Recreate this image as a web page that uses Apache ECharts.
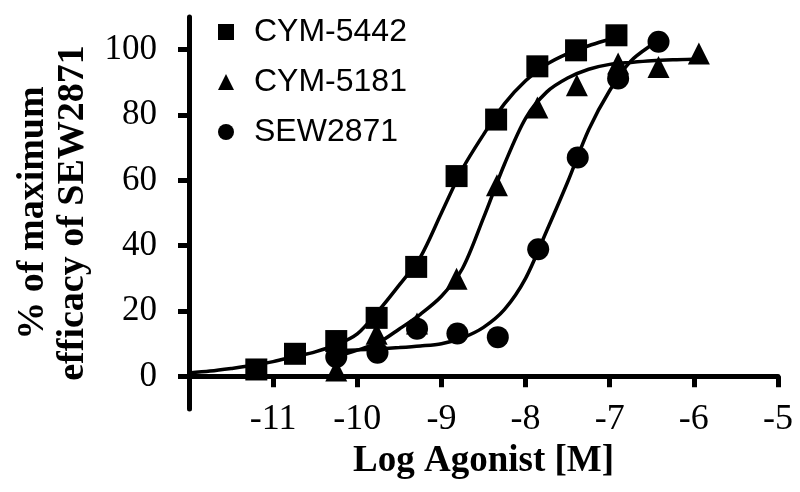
<!DOCTYPE html>
<html><head><meta charset="utf-8">
<script src="https://cdn.jsdelivr.net/npm/echarts@6/dist/echarts.min.js"></script>
<style>html,body{margin:0;padding:0;background:#fff}#c{width:800px;height:492px}</style>
</head><body><div id="c"></div>
<script>
// Tick values
const xTicks = [-11, -10, -9, -8, -7, -6, -5];
const yTicks = [0, 20, 40, 60, 80, 100];
const seriesNames = ['CYM-5442', 'CYM-5181', 'SEW2871'];

// Measured points (Log Agonist [M], % of max efficacy)
const cym5442LogM = [-11.2, -10.74, -10.25, -9.77, -9.3, -8.82, -8.35, -7.86, -7.4, -6.92];
const cym5442Pct  = [2.1, 6.9, 10.8, 17.9, 33.5, 61.3, 78.6, 94.9, 99.8, 104.4];
const cym5181LogM = [-10.25, -9.77, -9.29, -8.82, -8.34, -7.86, -7.39, -6.9, -6.42, -5.94];
const cym5181Pct  = [1.8, 13.0, 16.2, 29.9, 58.5, 82.3, 89.1, 95.8, 94.7, 98.8];
const sewLogM     = [-10.25, -9.76, -9.29, -8.81, -8.33, -7.85, -7.38, -6.9, -6.42];
const sewPct      = [5.9, 7.2, 14.6, 13.1, 12.0, 38.9, 67.0, 91.2, 102.4];

// Fitted curves
const cym5442FitLogM = [-12, -11.75, -11.5, -11.25, -11.0, -10.75, -10.5, -10.25, -10.0, -9.75, -9.5, -9.25, -9.0, -8.75, -8.5, -8.25, -8.0, -7.75, -7.5, -7.25, -7.0, -6.92];
const cym5442FitPct  = [1.0, 1.6, 2.4, 3.3, 4.5, 6.0, 7.5, 9.6, 13.0, 20.0, 28.0, 36.5, 50.0, 63.5, 74.0, 83.5, 90.5, 95.5, 98.8, 101.2, 103.2, 103.8];
const cym5181FitLogM = [-10.25, -10.0, -9.75, -9.5, -9.25, -9.0, -8.75, -8.5, -8.25, -8.0, -7.75, -7.5, -7.25, -7.0, -6.75, -6.5, -6.25, -6.0, -5.94];
const cym5181FitPct  = [6.0, 8.0, 10.3, 14.5, 19.0, 24.5, 33.0, 48.5, 65.0, 79.0, 87.0, 91.3, 94.0, 95.5, 96.1, 96.6, 96.9, 97.1, 97.1];
const sewFitLogM     = [-10.25, -10.0, -9.75, -9.5, -9.25, -9.0, -8.75, -8.5, -8.25, -8.0, -7.75, -7.5, -7.25, -7.0, -6.75, -6.5, -6.42];
const sewFitPct      = [7.8, 8.1, 8.4, 8.8, 9.3, 10.0, 11.8, 15.0, 20.5, 30.0, 44.5, 59.5, 75.5, 87.5, 96.5, 101.5, 102.5];

function pairs(xs, ys) { return xs.map((x, i) => [x, ys[i]]); }

const chart = echarts.init(document.getElementById('c'), null, { renderer: 'canvas' });

const serif = "'Liberation Serif', 'Times New Roman', serif";
const sans = "'Liberation Sans', Arial, sans-serif";

const yMin = -10, yMax = 110;
const gridTop = 17, gridBottom = 83, chartH = 492;
// shift the x axis up so it sits at y = 0 (the y axis runs below it)
const xAxisShift = -(0 - yMin) * (chartH - gridTop - gridBottom) / (yMax - yMin);

function fitLine(name, xs, ys) {
  return {
    name: name, type: 'line', data: pairs(xs, ys), showSymbol: false, symbol: 'none',
    smooth: 0.3, silent: true, z: 2,
    lineStyle: { color: '#000', width: 3.5, opacity: 1 }
  };
}
function pts(name, symbol, xs, ys) {
  return {
    name: name, type: 'scatter', data: pairs(xs, ys), symbol: symbol, symbolSize: 22, z: 3,
    itemStyle: { color: '#000', opacity: 1 }
  };
}

chart.setOption({
  animation: false,
  backgroundColor: '#fff',
  grid: { left: 189, right: 22, top: gridTop, bottom: gridBottom, containLabel: false, outerBoundsMode: 'none' },
  legend: {
    data: seriesNames, orient: 'vertical', left: 218, top: 16, padding: 0,
    itemWidth: 16, itemHeight: 16, itemGap: 18,
    itemStyle: { opacity: 1, color: '#000' },
    textStyle: { fontFamily: sans, fontSize: 32, color: '#000', lineHeight: 32, padding: [0, 0, 0, 15] }
  },
  xAxis: {
    type: 'value', min: -12, max: -5, offset: xAxisShift,
    name: 'Log Agonist [M]', nameLocation: 'middle', nameGap: 67,
    nameTextStyle: { fontFamily: serif, fontWeight: 'bold', fontSize: 37, color: '#000' },
    axisLine: { onZero: false, lineStyle: { color: '#000', width: 5 } },
    axisTick: { customValues: xTicks, length: 11, lineStyle: { color: '#000', width: 5 } },
    axisLabel: { customValues: xTicks, margin: 25, fontFamily: serif, fontSize: 36, color: '#000' },
    splitLine: { show: false }
  },
  yAxis: {
    type: 'value', min: yMin, max: yMax,
    name: '% of maximum\nefficacy of SEW2871', nameLocation: 'middle', nameRotate: 90, nameGap: 94,
    nameTextStyle: { fontFamily: serif, fontWeight: 'bold', fontSize: 38, color: '#000', lineHeight: 40, align: 'center' },
    axisLine: { onZero: false, lineStyle: { color: '#000', width: 5 } },
    axisTick: { customValues: yTicks, length: 11, lineStyle: { color: '#000', width: 5 } },
    axisLabel: { customValues: yTicks, margin: 32, fontFamily: serif, fontSize: 35, color: '#000' },
    splitLine: { show: false }
  },
  series: [
    fitLine('CYM-5442 fit', cym5442FitLogM, cym5442FitPct),
    fitLine('CYM-5181 fit', cym5181FitLogM, cym5181FitPct),
    fitLine('SEW2871 fit', sewFitLogM, sewFitPct),
    pts('CYM-5442', 'rect', cym5442LogM, cym5442Pct),
    pts('CYM-5181', 'triangle', cym5181LogM, cym5181Pct),
    pts('SEW2871', 'circle', sewLogM, sewPct)
  ]
});
</script>
</body></html>
